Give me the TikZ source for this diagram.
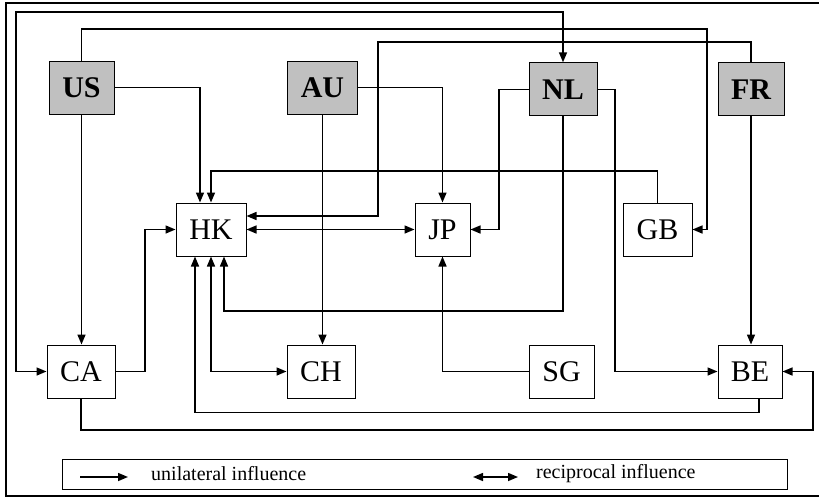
\documentclass[tikz,border=0pt]{standalone}
\usepackage{fontspec}
\setmainfont{Liberation Serif}
\usetikzlibrary{arrows.meta}
\definecolor{boxgray}{RGB}{192,192,192}
\begin{document}
\begin{tikzpicture}[x=1pt,y=-1pt,
  cbox/.style={draw=black,line width=1pt,minimum height=53pt,inner sep=0pt,
    font=\fontsize{30}{30}\selectfont},
  gbox/.style={cbox,fill=boxgray,font=\fontsize{30}{30}\selectfont\bfseries},
  conn/.style={line width=1.5pt,line join=miter},
  uni/.style={conn,-{Triangle[length=10pt,width=8pt]}},
  rec/.style={conn,{Triangle[length=10pt,width=8pt]}-{Triangle[length=10pt,width=8pt]}},
  legtext/.style={anchor=west,inner sep=0pt,font=\fontsize{20}{20}\selectfont}
]
\useasboundingbox (0,0) rectangle (819,499);
\draw[line width=2.2pt] (822,3) -- (6,3) -- (6,496) -- (822,496);

% nodes
\node[gbox,minimum width=65pt] (US) at (81.5,87.7) {US};
\node[gbox,minimum width=70pt] (AU) at (322.5,87.7) {AU};
\node[gbox,minimum width=68pt] (NL) at (563,89.3) {NL};
\node[gbox,minimum width=66pt] (FR) at (751,89.3) {FR};
\node[cbox,minimum width=70pt] (HK) at (211,229.5) {HK};
\node[cbox,minimum width=55pt] (JP) at (442.5,229.5) {JP};
\node[cbox,minimum width=69pt] (GB) at (657.5,229.5) {GB};
\node[cbox,minimum width=68pt] (CA) at (81,371.5) {CA};
\node[cbox,minimum width=68pt] (CH) at (321,371.5) {CH};
\node[cbox,minimum width=65pt] (SG) at (561.5,371.5) {SG};
\node[cbox,minimum width=64pt] (BE) at (750,371.5) {BE};

% connectors
\draw[uni] (US.north) |- (707,29) |- (GB.east);
\draw[uni] (FR.north) |- (378,42) |- (HK.east |- 0,216);
\draw[uni] (US.east) -| (HK.north -| 200,0);
\draw[uni] (GB.north) |- (HK.north |- 0,171) -- (HK.north);
\draw[uni] (AU.east) -| (JP.north);
\draw[uni] (AU.south) -- (AU.south |- CH.north);
\draw[rec] (HK.east) -- (JP.west);
\draw[uni] (NL.west) -- (NL.west -| 499,0) |- (JP.east);
\draw[uni] (NL.south) |- (224,311) -- (HK.south -| 224,0);
\draw[uni] (NL.east) -- (NL.east -| 615,0) |- (BE.west);
\draw[uni] (FR.south) -- (FR.south |- BE.north);
\draw[uni] (US.south) -- (US.south |- CA.north);
\draw[uni] (CA.east) -- (CA.east -| 145,0) |- (HK.west);
\draw[rec] (HK.south) |- (CH.west);
\draw[uni] (SG.west) -| (JP.south);
\draw[uni] (BE.south -| 759,0) |- (195,412.7) -- (HK.south -| 195,0);
\draw[uni] (CA.south) |- (813,430) |- (BE.east);
\draw[rec] (CA.west) -- (CA.west -| 16,0) |- (NL.north |- 0,12) -- (NL.north);

% legend
\node[draw=black,line width=1pt,minimum width=725pt,minimum height=30pt,inner sep=0pt] (leg) at (424.5,474) {};
\coordinate (u1) at (80,477);
\coordinate (u2) at (128,477);
\draw[uni] (u1) -- (u2);
\node[legtext] (ut) at (151,474) {unilateral influence};
\coordinate (r1) at (473,477);
\coordinate (r2) at (518,477);
\draw[rec] (r1) -- (r2);
\node[legtext] (rt) at (536,474) {reciprocal influence};
\end{tikzpicture}
\end{document}
